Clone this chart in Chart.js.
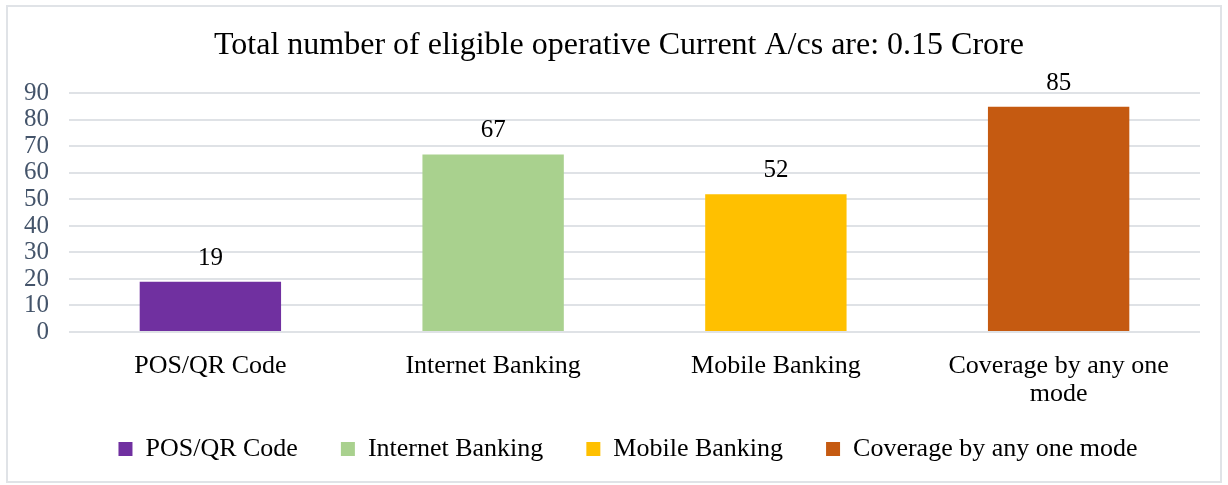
<!DOCTYPE html>
<html>
<head>
<meta charset="utf-8">
<script src="https://cdn.jsdelivr.net/npm/chart.js@4.4.1/dist/chart.umd.min.js"></script>
<style>
  html, body { margin: 0; padding: 0; background: #fff; }
  #wrap {
    position: absolute; left: 6px; top: 5px;
    width: 1212px; height: 474px;
    border: 2px solid #e0e3e7;
  }
</style>
</head>
<body>
<div id="wrap"><canvas id="modeChart"></canvas></div>
<script>
var categories = ['POS/QR Code', 'Internet Banking', 'Mobile Banking', 'Coverage by any one mode'];
var coverage = [19, 67, 52, 85];
var barColors = ['#7030A0', '#A9D18E', '#FFC000', '#C55A11'];
var yTicks = [0, 10, 20, 30, 40, 50, 60, 70, 80, 90];

var serif = "'Liberation Serif', 'Times New Roman', serif";

// wrap long axis labels onto two lines
function wrapLabel(text, maxLen) {
    if (text.length <= maxLen) return text;
    var cut = text.lastIndexOf(' ', maxLen);
    return [text.slice(0, cut), text.slice(cut + 1)];
}

// numbers drawn above each bar
var barValues = {
    id: 'barValues',
    afterDatasetsDraw: function(chart) {
        var ctx = chart.ctx;
        var meta = chart.getDatasetMeta(0);
        ctx.save();
        ctx.font = '25px ' + serif;
        ctx.fillStyle = '#000';
        ctx.textAlign = 'center';
        ctx.textBaseline = 'bottom';
        meta.data.forEach(function(bar, i) {
            ctx.fillText(chart.data.datasets[0].data[i], bar.x, bar.y - 11);
        });
        ctx.restore();
    }
};

var ctx = document.getElementById('modeChart');
var modeChart = new Chart(ctx, {
    type: 'bar',
    data: {
        labels: categories,
        datasets: [{
            label: 'Coverage',
            data: coverage,
            backgroundColor: barColors,
            barPercentage: 0.5,
            categoryPercentage: 1.0
        }]
    },
    options: {
        responsive: true,
        maintainAspectRatio: false,
        animation: false,
        layout: { padding: { left: 0, right: -10, top: 0, bottom: 9 } },
        plugins: {
            title: {
                display: true,
                text: 'Total number of eligible operative Current A/cs are: 0.15 Crore',
                color: '#000',
                font: { family: serif, size: 32, weight: 'normal' },
                padding: { top: 19, bottom: 29 }
            },
            legend: {
                position: 'bottom',
                align: 'center',
                fullSize: false,
                labels: {
                    color: '#000',
                    font: { family: serif, size: 26 },
                    boxWidth: 14,
                    boxHeight: 14,
                    padding: 30,
                    generateLabels: function(chart) {
                        return categories.map(function(name, i) {
                            return {
                                text: name + '\u00a0\u00a0',
                                fillStyle: barColors[i],
                                strokeStyle: barColors[i],
                                lineWidth: 0,
                                index: i
                            };
                        });
                    }
                },
                onClick: function() {}
            },
            tooltip: { enabled: false }
        },
        scales: {
            x: {
                grid: { display: false },
                border: { display: false },
                afterFit: function(axis) {
                    axis.height = 74;
                },
                ticks: {
                    color: '#000',
                    font: { family: serif, size: 26, lineHeight: 1.08 },
                    padding: 12,
                    maxRotation: 0,
                    autoSkip: false,
                    callback: function(value, index) {
                        return wrapLabel(categories[index], 20);
                    }
                }
            },
            y: {
                min: 0,
                max: 90,
                afterBuildTicks: function(axis) {
                    axis.ticks = yTicks.map(function(v) { return { value: v }; });
                },
                afterFit: function(axis) {
                    axis.width = 61;
                },
                grid: { color: '#dfe2e6', lineWidth: 2, drawTicks: false },
                border: { display: false },
                ticks: {
                    color: '#44546A',
                    font: { family: serif, size: 25, lineHeight: 1.0 },
                    padding: 20,
                    autoSkip: false
                }
            },
            // empty margin on the right of the plot
            yRight: {
                position: 'right',
                grid: { display: false },
                border: { display: false },
                ticks: { display: false },
                afterFit: function(axis) {
                    axis.width = 30;
                }
            }
        }
    },
    plugins: [barValues]
});
</script>
</body>
</html>
